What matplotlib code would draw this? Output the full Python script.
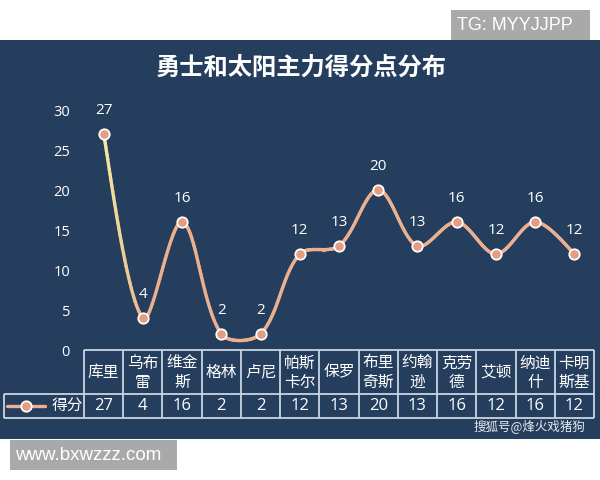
import numpy as np
import matplotlib
matplotlib.use("Agg")
import matplotlib.pyplot as plt
from matplotlib.patches import Rectangle
from matplotlib.collections import LineCollection
from matplotlib.colors import to_rgb

plt.rcParams['font.family'] = ['Noto Sans CJK SC', 'DejaVu Sans']
NUMF = ['Open Sans', 'Noto Sans CJK SC']

# ---------------- data ----------------
title = "勇士和太阳主力得分点分布"
players = ["库里", "乌布雷", "维金斯", "格林", "卢尼", "帕斯卡尔", "保罗",
           "布里奇斯", "约翰逊", "克劳德", "艾顿", "纳迪什", "卡明斯基"]
header_lines = [["库里"], ["乌布", "雷"], ["维金", "斯"], ["格林"], ["卢尼"],
                ["帕斯", "卡尔"], ["保罗"], ["布里", "奇斯"], ["约翰", "逊"],
                ["克劳", "德"], ["艾顿"], ["纳迪", "什"], ["卡明", "斯基"]]
points = [27, 4, 16, 2, 2, 12, 13, 20, 13, 16, 12, 16, 12]
series_name = "得分"
yticks = [0, 5, 10, 15, 20, 25, 30]

# ---------------- style ----------------
W, H = 600, 480
BG = "#263e5d"
LINE_END = "#ebb08f"
LINE_START = "#f5ea9e"
MARK = "#e59c80"
BORDER = "#c8d5e2"
col_px = 510 / 13.0        # column width in pixels
ypx = 8.0                  # pixels per score unit

fig = plt.figure(figsize=(6, 4.8), dpi=100, facecolor="white")

def fx(px):
    return px / W

def fy(py):
    return 1 - py / H

# dark panel
fig.patches.append(Rectangle((0, fy(439)), 1, fy(40) - fy(439),
                             transform=fig.transFigure, facecolor=BG,
                             edgecolor="none", zorder=-10))

# title
fig.text(fx(301), fy(68), title, color="white", fontsize=17.5,
         fontweight="bold", ha="center", va="center")

# ---------------- main line chart ----------------
ax = fig.add_axes([fx(84), fy(350), fx(594) - fx(84), fy(110) - fy(350)])
ax.set_facecolor("none")
ax.set_zorder(2)
n = len(points)
x = np.arange(n)
ax.set_xlim(-0.5, n - 0.5)
ax.set_ylim(0, 30)
for s in ax.spines.values():
    s.set_visible(False)
ax.set_xticks([])
ax.set_yticks(yticks)
ax.tick_params(axis="y", length=0, pad=10, labelcolor="white", labelsize=10.5)
for lab in ax.get_yticklabels():
    lab.set_fontfamily(NUMF)

# smoothed (Excel-like) curve through the points, computed in pixel space
P = np.column_stack([x * col_px, np.array(points, float) * ypx])
def dist(a, b):
    return float(np.hypot(*(a - b)))
curve = []
for i in range(n - 1):
    p0, p1 = P[i], P[i + 1]
    if i > 0:
        T = P[i + 1] - P[i - 1]
        r = dist(P[i], P[i + 1]) / (dist(P[i - 1], P[i]) + dist(P[i], P[i + 1]))
        c1 = p0 + T * r / 3.0
    else:
        c1 = p0 + (p1 - p0) * 0.1
    if i + 2 < n:
        T = P[i + 2] - P[i]
        r = dist(P[i], P[i + 1]) / (dist(P[i], P[i + 1]) + dist(P[i + 1], P[i + 2]))
        c2 = p1 - T * r / 3.0
    else:
        c2 = p1 - (p1 - p0) * 0.1
    t = np.linspace(0, 1, 40)[:, None]
    seg = ((1 - t) ** 3) * p0 + 3 * ((1 - t) ** 2) * t * c1 + 3 * (1 - t) * t ** 2 * c2 + t ** 3 * p1
    curve.append(seg if i == 0 else seg[1:])
curve = np.vstack(curve)
cx = curve[:, 0] / col_px
cy = curve[:, 1] / ypx
segs = np.stack([np.column_stack([cx[:-1], cy[:-1]]),
                 np.column_stack([cx[1:], cy[1:]])], axis=1)
c0 = np.array(to_rgb(LINE_START))
c1_ = np.array(to_rgb(LINE_END))
frac = np.clip(((cx[:-1] + cx[1:]) / 2) / 1.1, 0, 1)[:, None]
cols = c0 * (1 - frac) + c1_ * frac
lc = LineCollection(segs, colors=cols, linewidths=2.4, capstyle="round",
                    joinstyle="round", zorder=2)
ax.add_collection(lc)
ax.plot(x, points, linestyle="none", marker="o", markersize=7.5,
        markerfacecolor=MARK, markeredgecolor="white", markeredgewidth=1.3,
        zorder=3, clip_on=False)
for xi, v in zip(x, points):
    ax.annotate(str(v), (xi, v), xytext=(0, 17), textcoords="offset points",
                ha="center", va="center", color="white", fontsize=11,
                family=NUMF, annotation_clip=False)

# ---------------- data table ----------------
leg_cols = 80 / col_px
tx = fig.add_axes([fx(4), fy(418), fx(594) - fx(4), fy(350) - fy(418)])
tx.set_facecolor("none")
tx.set_zorder(1)
tx.set_xlim(-0.5 - leg_cols, n - 0.5)
tx.set_ylim(68, 0)
tx.axis("off")
lk = dict(color=BORDER, lw=1.3, solid_capstyle="butt", clip_on=False)
left = -0.5 - leg_cols
tx.plot([-0.5, n - 0.5], [0, 0], **lk)
tx.plot([left, n - 0.5], [44, 44], **lk)
tx.plot([left, n - 0.5], [68, 68], **lk)
tx.plot([left, left], [44, 68], **lk)
for k in range(n + 1):
    tx.plot([k - 0.5, k - 0.5], [0, 68], **lk)

HF = 11.3
for i, lines in enumerate(header_lines):
    if len(lines) == 1:
        tx.text(i, 22, lines[0], ha="center", va="center", color="white", fontsize=HF)
    else:
        tx.text(i, 13, lines[0], ha="center", va="center", color="white", fontsize=HF)
        tx.text(i, 32, lines[1], ha="center", va="center", color="white", fontsize=HF)
for i, v in enumerate(points):
    tx.text(i, 56, str(v), ha="center", va="center", color="white",
            fontsize=12, family=NUMF)

# legend key
kx0 = left + 3 / col_px
kx1 = left + 41 / col_px
tx.plot([kx0, kx1], [56, 56], color=LINE_END, lw=2.4, solid_capstyle="round")
tx.plot([(kx0 + kx1) / 2], [56], marker="o", markersize=7.5,
        markerfacecolor=MARK, markeredgecolor="white", markeredgewidth=1.3)
tx.text(left + 63 / col_px, 56, series_name, ha="center", va="center",
        color="white", fontsize=HF)

# watermarks
fig.text(fx(585), fy(427), "搜狐号@烽火戏猪狗", ha="right", va="center",
         color="#e6ebf1", fontsize=9)
fig.patches.append(Rectangle((fx(451), fy(40)), fx(590) - fx(451), fy(10) - fy(40),
                             transform=fig.transFigure, facecolor="#a9a9a9",
                             edgecolor="none", zorder=1))
fig.text(fx(457), fy(25), "TG: MYYJJPP", ha="left", va="center", color="white",
         fontsize=13, family="Liberation Sans")
fig.patches.append(Rectangle((fx(10), fy(470)), fx(177) - fx(10), fy(440) - fy(470),
                             transform=fig.transFigure, facecolor="#a9a9a9",
                             edgecolor="none", zorder=1))
fig.text(fx(15), fy(455), "www.bxwzzz.com", ha="left", va="center", color="white",
         fontsize=13.5, family="Liberation Sans")

fig.savefig("out.png", dpi=100, facecolor="white")
